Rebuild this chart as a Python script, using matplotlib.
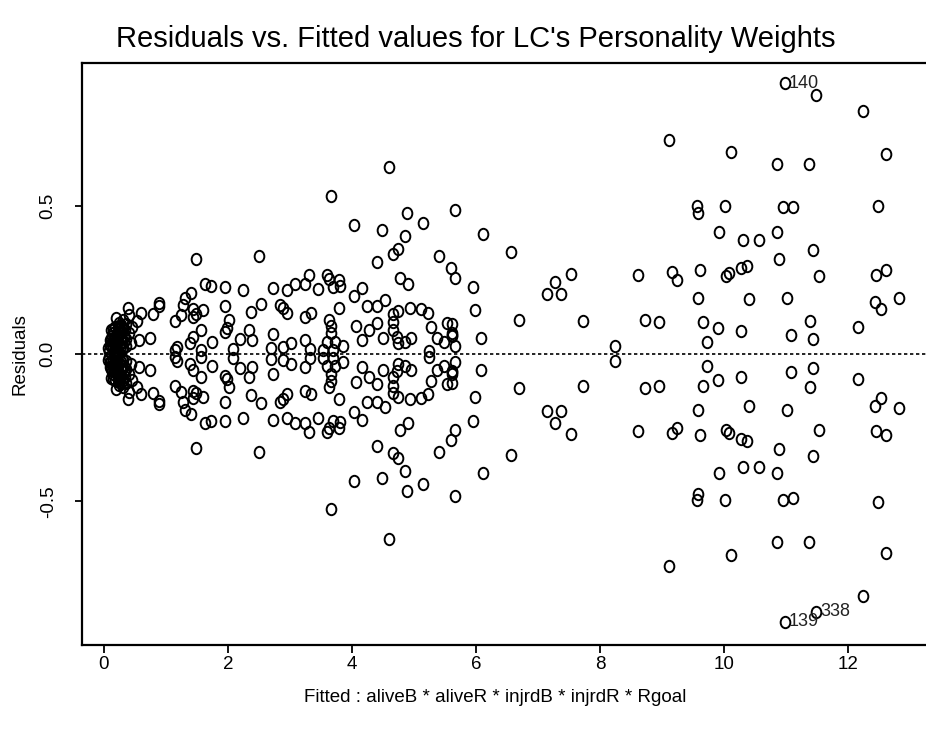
import matplotlib
matplotlib.use("Agg")
import matplotlib.pyplot as plt
from matplotlib.path import Path
from matplotlib.transforms import Affine2D

plt.rcParams['font.family'] = ['Liberation Sans', 'DejaVu Sans']

# upper half of the residual cloud
fittedUpper = [
    0.08, 0.10, 0.12, 0.14, 0.15, 0.17, 0.18, 0.20, 0.21, 0.22, 0.24, 0.25, 0.27, 0.28, 0.30,
    0.32, 0.34, 0.12, 0.16, 0.19, 0.23, 0.26, 0.29, 0.13, 0.18, 0.22, 0.27, 0.31, 0.36, 0.40,
    0.11, 0.14, 0.17, 0.21, 0.24, 0.26, 0.29, 0.33, 0.15, 0.19, 0.23, 0.28, 0.06, 0.09, 0.35,
    0.30, 0.39, 0.41, 0.53, 0.59, 0.44, 0.57, 0.75, 0.79, 0.88, 0.89, 0.20, 0.25, 0.35, 0.45,
    1.14, 1.15, 1.17, 1.25, 1.27, 1.31, 1.40, 1.38, 1.44, 1.43, 1.49, 1.44, 1.59, 1.56, 1.56,
    1.49, 1.63, 1.73, 1.74, 1.95, 1.95, 2.02, 1.95, 1.98, 2.08, 2.24, 2.37, 2.53, 2.20, 2.34,
    2.38, 2.50,
    2.72, 2.95, 3.08, 3.24, 3.31, 3.46, 3.59, 3.63, 3.79, 3.80, 3.69, 2.72, 2.69, 2.88, 3.01,
    3.24, 3.33, 2.84, 2.89, 2.95, 3.24, 3.34, 3.63, 3.66, 3.66, 3.59, 3.72, 3.85, 3.54, 3.70,
    3.79, 3.66,
    4.04, 4.49, 4.59, 4.88, 5.14, 5.66, 4.85, 4.40, 4.66, 4.75, 5.40, 5.59, 5.66, 5.95, 4.78,
    4.91, 4.04, 4.17, 4.24, 4.40, 4.53, 4.66, 4.75, 4.66, 4.66, 4.94, 5.11, 5.23, 5.27, 5.53,
    5.62, 5.62, 5.98, 4.07, 4.27, 4.40, 4.17, 4.50, 4.72, 4.75, 4.85, 4.95, 5.24, 5.37, 5.49,
    5.66, 5.61, 5.61, 6.08,
    6.11, 6.56, 6.69, 7.14, 7.27, 7.37, 7.53, 7.72, 8.24, 8.62, 8.72, 8.95, 9.11, 9.17, 9.25,
    9.56, 9.59, 9.62, 9.59, 9.66, 9.72, 9.91, 9.92, 10.02, 10.04, 10.09, 10.11, 10.27, 10.37,
    10.27, 10.31, 10.40, 10.56, 10.85, 10.85, 10.89, 10.95, 10.98, 11.01, 11.08, 11.12, 11.37,
    11.39, 11.43, 11.43, 11.49, 11.53, 12.17, 12.24, 12.44, 12.46, 12.49, 12.53, 12.62, 12.62,
    12.82,
]
residUpper = [
    0.010, 0.030, 0.050, 0.020, 0.070, 0.040, 0.090, 0.010, 0.060, 0.080, 0.030, 0.095, 0.050, 0.070, 0.020,
    0.060, 0.080, 0.080, 0.010, 0.040, 0.090, 0.020, 0.040, 0.060, 0.030, 0.050, 0.098, 0.088, 0.050, 0.070,
    0.025, 0.045, 0.015, 0.035, 0.065, 0.075, 0.015, 0.040, 0.085, 0.065, 0.005, 0.055, 0.020, 0.045, 0.025,
    0.114, 0.154, 0.130, 0.112, 0.137, 0.035, 0.046, 0.054, 0.133, 0.171, 0.160, 0.120, 0.105, 0.100, 0.090,
    0.110, 0.012, 0.024, 0.131, 0.164, 0.189, 0.204, 0.035, 0.055, 0.150, 0.134, 0.125, 0.148, 0.080, 0.012,
    0.320, 0.236, 0.229, 0.041, 0.227, 0.163, 0.114, 0.075, 0.086, 0.016, 0.216, 0.140, 0.168, 0.049, 0.080,
    0.046, 0.331,
    0.224, 0.216, 0.236, 0.236, 0.266, 0.218, 0.266, 0.253, 0.250, 0.230, 0.227, 0.067, 0.018, 0.022, 0.035,
    0.046, 0.015, 0.165, 0.154, 0.137, 0.125, 0.137, 0.114, 0.094, 0.069, 0.041, 0.041, 0.027, 0.013, 0.013,
    0.154, 0.535,
    0.436, 0.419, 0.633, 0.475, 0.441, 0.486, 0.398, 0.312, 0.337, 0.353, 0.331, 0.291, 0.257, 0.227, 0.257,
    0.236, 0.196, 0.223, 0.163, 0.163, 0.182, 0.134, 0.146, 0.108, 0.080, 0.154, 0.150, 0.137, 0.091, 0.103,
    0.063, 0.070, 0.148, 0.095, 0.080, 0.103, 0.046, 0.054, 0.058, 0.035, 0.041, 0.054, 0.010, 0.054, 0.041,
    0.027, 0.100, 0.060, 0.054,
    0.405, 0.344, 0.115, 0.203, 0.243, 0.203, 0.271, 0.112, 0.027, 0.267, 0.115, 0.108, 0.723, 0.278, 0.250,
    0.501, 0.475, 0.283, 0.190, 0.108, 0.041, 0.088, 0.413, 0.501, 0.263, 0.272, 0.684, 0.289, 0.297,
    0.078, 0.385, 0.184, 0.385, 0.413, 0.642, 0.321, 0.498, 0.915, 0.190, 0.062, 0.495, 0.642,
    0.112, 0.351, 0.049, 0.876, 0.263, 0.091, 0.823, 0.176, 0.266, 0.501, 0.150, 0.283, 0.676,
    0.190,
]

# lower half (close mirror of the upper half)
fittedLower = fittedUpper
residLower = [
    -0.012, -0.028, -0.052, -0.020, -0.068, -0.042, -0.088, -0.012, -0.062, -0.080, -0.030, -0.095, -0.050, -0.072, -0.022,
    -0.060, -0.078, -0.082, -0.010, -0.040, -0.090, -0.020, -0.042, -0.060, -0.032, -0.050, -0.098, -0.088, -0.052, -0.070,
    -0.025, -0.045, -0.015, -0.035, -0.065, -0.075, -0.015, -0.040, -0.085, -0.065, -0.005, -0.055, -0.020, -0.045, -0.025,
    -0.114, -0.154, -0.130, -0.112, -0.137, -0.035, -0.046, -0.054, -0.133, -0.171, -0.160, -0.120, -0.105, -0.100, -0.090,
    -0.110, -0.012, -0.024, -0.131, -0.164, -0.189, -0.204, -0.035, -0.055, -0.150, -0.134, -0.125, -0.148, -0.080, -0.012,
    -0.320, -0.236, -0.229, -0.041, -0.227, -0.163, -0.114, -0.075, -0.086, -0.016, -0.216, -0.140, -0.168, -0.049, -0.080,
    -0.046, -0.331,
    -0.224, -0.216, -0.236, -0.236, -0.266, -0.218, -0.266, -0.253, -0.250, -0.230, -0.227, -0.067, -0.018, -0.022, -0.035,
    -0.046, -0.015, -0.165, -0.154, -0.137, -0.125, -0.137, -0.114, -0.094, -0.069, -0.041, -0.041, -0.027, -0.013, -0.013,
    -0.154, -0.527,
    -0.430, -0.419, -0.626, -0.465, -0.441, -0.480, -0.398, -0.312, -0.337, -0.353, -0.331, -0.291, -0.257, -0.227, -0.257,
    -0.236, -0.196, -0.223, -0.163, -0.163, -0.182, -0.134, -0.146, -0.108, -0.080, -0.154, -0.150, -0.137, -0.091, -0.103,
    -0.063, -0.070, -0.148, -0.095, -0.080, -0.103, -0.046, -0.054, -0.058, -0.035, -0.041, -0.054, -0.010, -0.054, -0.041,
    -0.027, -0.100, -0.060, -0.054,
    -0.405, -0.344, -0.115, -0.195, -0.233, -0.195, -0.271, -0.108, -0.024, -0.262, -0.115, -0.108, -0.719, -0.270, -0.250,
    -0.494, -0.475, -0.276, -0.190, -0.108, -0.041, -0.088, -0.405, -0.494, -0.258, -0.268, -0.680, -0.289, -0.297,
    -0.078, -0.385, -0.176, -0.385, -0.405, -0.636, -0.321, -0.494, -0.907, -0.190, -0.062, -0.487, -0.636,
    -0.112, -0.345, -0.049, -0.873, -0.258, -0.087, -0.819, -0.176, -0.262, -0.501, -0.150, -0.276, -0.676,
    -0.185,
]

# the three largest residuals get their case number
labelIds = ['140', '139', '338']
labelFitted = [10.98, 10.98, 11.49]
labelResid = [0.915, -0.907, -0.873]

xTicks = [0, 2, 4, 6, 8, 10, 12]
yTicks = [-0.5, 0.0, 0.5]
yTickLabels = ['-0.5', '0.0', '0.5']

ellipse = Path.unit_circle().transformed(Affine2D().scale(0.85, 1.0))

fig = plt.figure(figsize=(9.26, 7.31), dpi=100)
ax = fig.add_axes([0.0882, 0.1176, 0.9118, 0.7962])

ax.plot(fittedUpper + fittedLower, residUpper + residLower, linestyle='none',
        marker=ellipse, markersize=8.2, markerfacecolor='none',
        markeredgecolor='black', markeredgewidth=1.4)
ax.axhline(0, color='black', linewidth=1.2, linestyle=(0, (2, 1.6)))

for labelId, x, y in zip(labelIds, labelFitted, labelResid):
    ax.annotate(labelId, (x, y), xytext=(3, 0), textcoords='offset points',
                ha='left', va='center', fontsize=13, color='#222222')

ax.set_xlim(-0.36, 13.26)
ax.set_ylim(-0.986, 0.984)
ax.set_xticks(xTicks)
ax.set_yticks(yTicks)
ax.set_yticklabels(yTickLabels, rotation=90, va='center')
ax.tick_params(axis='x', length=6, width=1.3, labelsize=13.5, pad=2)
ax.tick_params(axis='y', length=5, width=1.3, labelsize=13.5, pad=13)
for side in ['left', 'top', 'bottom']:
    ax.spines[side].set_linewidth(1.6)
ax.spines['right'].set_visible(False)

fig.text(0.5135, 0.947, "Residuals vs. Fitted values for LC's Personality Weights",
         ha='center', va='center', fontsize=21)
fig.text(0.535, 0.046, "Fitted : aliveB * aliveR * injrdB * injrdR * Rgoal",
         ha='center', va='center', fontsize=13.5)
fig.text(0.022, 0.516, "Residuals", ha='center', va='center', rotation=90, fontsize=13.5)

fig.savefig("out.png", dpi=100)
